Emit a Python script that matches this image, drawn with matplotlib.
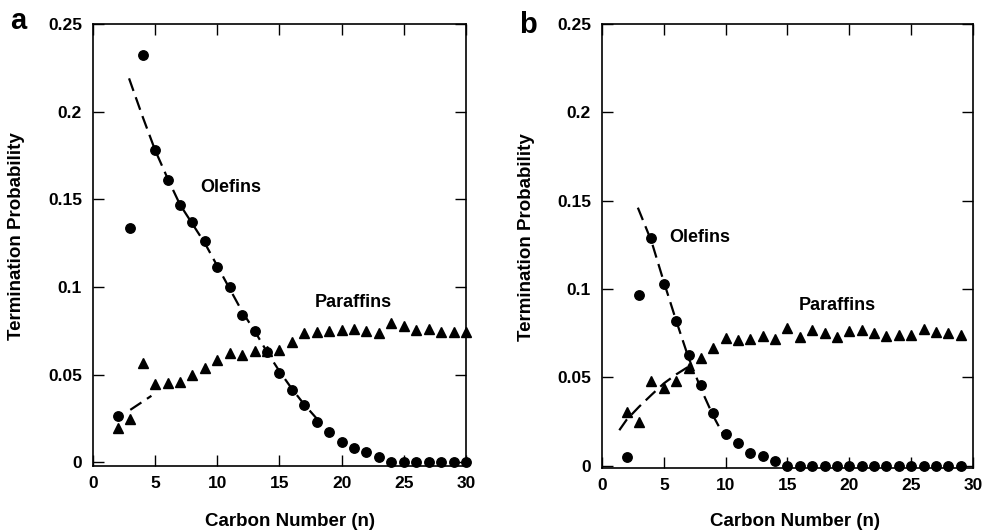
import matplotlib
matplotlib.use("Agg")
import matplotlib.pyplot as plt

plt.rcParams['font.family'] = ['Liberation Sans', 'DejaVu Sans']
plt.rcParams['font.weight'] = 'bold'

# ---------------- Panel a data ----------------
a_olef_n = list(range(2, 31))
a_olef_p = [0.0267, 0.1338, 0.2323, 0.178, 0.161, 0.1467, 0.137, 0.126, 0.1115,
            0.100, 0.0843, 0.0747, 0.063, 0.051, 0.0414, 0.0325, 0.0233, 0.0176,
            0.0115, 0.0085, 0.0058, 0.0033, 0, 0, 0, 0, 0, 0, 0]
a_par_n = list(range(2, 31))
a_par_p = [0.0195, 0.0249, 0.0567, 0.0449, 0.0453, 0.0456, 0.0496, 0.0538, 0.0586,
           0.0624, 0.0612, 0.0637, 0.0633, 0.0643, 0.0685, 0.0738, 0.0742, 0.0751,
           0.0757, 0.0761, 0.0747, 0.0738, 0.0795, 0.078, 0.0757, 0.0761, 0.0742,
           0.0742, 0.0742]
a_olef_fit_n = [2.9, 4, 5, 6, 7, 8, 9, 10, 11, 12, 13, 14, 15, 16, 17, 18]
a_olef_fit_p = [0.219, 0.197, 0.178, 0.162, 0.147, 0.136, 0.125, 0.112, 0.099,
                0.086, 0.075, 0.063, 0.052, 0.042, 0.033, 0.025]
a_par_fit_n = [3.0, 4.7]
a_par_fit_p = [0.030, 0.038]

# ---------------- Panel b data ----------------
b_olef_n = list(range(2, 30))
b_olef_p = [0.005, 0.0965, 0.1286, 0.103, 0.082, 0.0626, 0.0456, 0.0296, 0.0177,
            0.0126, 0.0073, 0.0054, 0.0025] + [0] * 15
b_par_n = list(range(2, 30))
b_par_p = [0.0305, 0.0245, 0.048, 0.0437, 0.048, 0.0554, 0.061, 0.0664, 0.072,
           0.0711, 0.0715, 0.0733, 0.0715, 0.0777, 0.0729, 0.0767, 0.0752, 0.0729,
           0.0763, 0.0767, 0.0752, 0.0733, 0.0737, 0.0737, 0.0771, 0.0758, 0.0752,
           0.0739]
b_olef_fit_n = [2.9, 4, 5, 6, 7, 8, 9, 10]
b_olef_fit_p = [0.146, 0.127, 0.104, 0.082, 0.061, 0.0435, 0.028, 0.015]
b_par_fit_n = [1.4, 2, 3, 4, 5, 6, 7]
b_par_fit_p = [0.020, 0.026, 0.0333, 0.040, 0.0465, 0.0516, 0.056]

x_ticks = [0, 5, 10, 15, 20, 25, 30]
y_ticks = [0, 0.05, 0.1, 0.15, 0.2, 0.25]
y_tick_labels = ['0', '0.05', '0.1', '0.15', '0.2', '0.25']

fig = plt.figure(figsize=(9.83, 5.32), dpi=100)
axa = fig.add_axes([0.0946, 0.1241, 0.3794, 0.8308])
axb = fig.add_axes([0.6124, 0.1203, 0.3774, 0.8346])

def style(ax, ylo):
    ax.set_xlim(0, 30)
    ax.set_ylim(ylo, 0.25)
    ax.set_xticks(x_ticks)
    ax.set_yticks(y_ticks)
    ax.set_yticklabels(y_tick_labels)
    ax.tick_params(direction='in', top=True, right=True, length=8, width=1,
                   labelsize=12.5)
    ax.tick_params(axis='y', pad=8)
    ax.tick_params(axis='x', pad=7)
    for s in ax.spines.values():
        s.set_linewidth(1.2)
    for lab in ax.get_xticklabels() + ax.get_yticklabels():
        lab.set_fontweight('bold')
    ax.set_ylabel('Termination Probability', fontsize=13.5, fontweight='bold')
    ax.set_xlabel('Carbon Number (n)', fontsize=13.5, fontweight='bold')

def draw(ax, on, op, pn, pp, ofn, ofp, pfn, pfp):
    ax.plot(ofn, ofp, color='black', lw=1.6, dashes=(6, 3), zorder=2)
    ax.plot(pfn, pfp, color='black', lw=1.6, dashes=(6, 3), zorder=2)
    ax.plot(on, op, 'o', color='black', ms=6.8, ls='none', clip_on=False, zorder=3)
    ax.plot(pn, pp, '^', color='black', ms=7.2, ls='none', clip_on=False, zorder=3)

draw(axa, a_olef_n, a_olef_p, a_par_n, a_par_p, a_olef_fit_n, a_olef_fit_p,
     a_par_fit_n, a_par_fit_p)
draw(axb, b_olef_n, b_olef_p, b_par_n, b_par_p, b_olef_fit_n, b_olef_fit_p,
     b_par_fit_n, b_par_fit_p)

style(axa, -0.002)
style(axb, -0.0014)

axa.yaxis.set_label_coords(-0.183, 0.52)
axa.xaxis.set_label_coords(0.527, -0.106)
axb.yaxis.set_label_coords(-0.18, 0.52)
axb.xaxis.set_label_coords(0.52, -0.101)

axa.text(11.1, 0.157, 'Olefins', fontsize=13, fontweight='bold', ha='center', va='center')
axa.text(20.9, 0.091, 'Paraffins', fontsize=13, fontweight='bold', ha='center', va='center')
axb.text(7.9, 0.129, 'Olefins', fontsize=13, fontweight='bold', ha='center', va='center')
axb.text(19.0, 0.0905, 'Paraffins', fontsize=13, fontweight='bold', ha='center', va='center')

fig.text(18 / 983, 1 - 29 / 532, 'a', fontsize=21, fontweight='bold', ha='center', va='baseline')
fig.text(528 / 983, 1 - 33 / 532, 'b', fontsize=21, fontweight='bold', ha='center', va='baseline')

fig.savefig('out.png', dpi=100)
